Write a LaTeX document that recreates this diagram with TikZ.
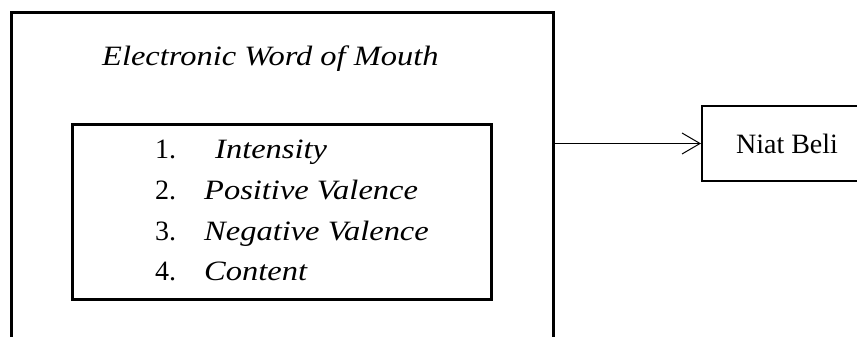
\documentclass[tikz,border=0pt]{standalone}
\usepackage{fontspec}
\setmainfont{Liberation Serif}[ItalicFeatures={FakeStretch=1.16}]
\usetikzlibrary{arrows.meta}
\begin{document}
\begin{tikzpicture}[x=1pt,y=-1pt,
  txt/.style={inner sep=0pt,anchor=base west,font=\fontsize{28}{34}\selectfont},
  bigbox/.style={draw,line width=3pt,inner sep=0pt,anchor=north west},
  listbox/.style={draw,line width=2.5pt,inner sep=0pt,anchor=north west},
  outbox/.style={draw,line width=2pt,inner sep=0pt,anchor=north west,font=\fontsize{28}{34}\selectfont},
  link/.style={line width=1pt,-{Straight Barb[length=18pt,width=21pt,line width=1pt]}}]
\useasboundingbox (0,0) rectangle (857,337);
\node[bigbox,minimum width=542pt,minimum height=360pt] (ewom) at (10,11) {};
\node[listbox,minimum width=419pt,minimum height=175pt] (dims) at (71,123) {};
\node[outbox,minimum width=170pt,minimum height=75pt] (niat) at (701,105) {Niat Beli};
\node[txt] (title) at (102,66) {\itshape Electronic Word of Mouth};
\node[txt] (n1) at (155,158) {1.};
\node[txt] (i1) at (215,158) {\itshape Intensity};
\node[txt] (n2) at (155,199) {2.};
\node[txt] (i2) at (204,199) {\itshape Positive Valence};
\node[txt] (n3) at (155,240) {3.};
\node[txt] (i3) at (204,240) {\itshape Negative Valence};
\node[txt] (n4) at (155,280) {4.};
\node[txt] (i4) at (204,280) {\itshape Content};
\draw[link] (niat.west -| ewom.east) -- (niat.west);
\end{tikzpicture}
\end{document}
